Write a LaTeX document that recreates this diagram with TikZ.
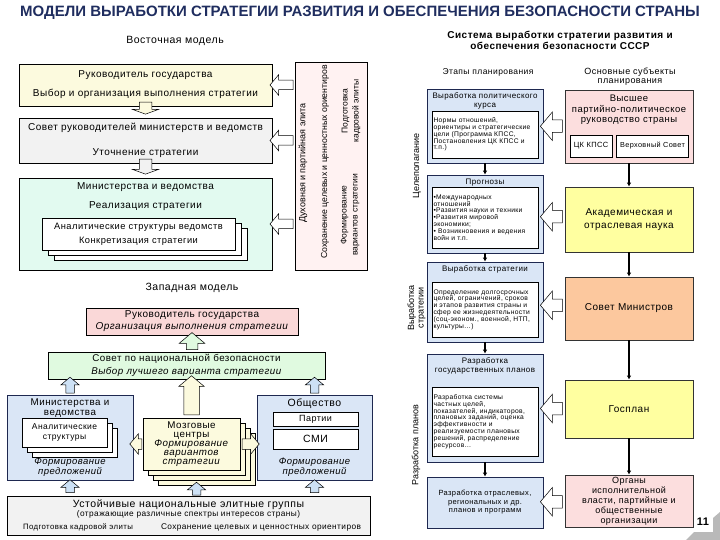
\documentclass[tikz,border=0pt]{standalone}
\usepackage{fontspec}
\setmainfont[LetterSpace=5]{Liberation Sans}
\newfontfamily\plainfont{Liberation Sans}
\usetikzlibrary{arrows.meta,positioning,calc,shapes.arrows,shadows}

\definecolor{TitleBlue} {RGB}{31,45,95}
\definecolor{EastYellow}{RGB}{252,250,222}
\definecolor{EastGray}  {RGB}{242,242,242}
\definecolor{EastMint}  {RGB}{226,250,240}
\definecolor{ElitePink} {RGB}{255,242,242}
\definecolor{StageBlue} {RGB}{218,230,246}
\definecolor{StageLine} {RGB}{30,40,80}
\definecolor{PartyPink} {RGB}{252,222,222}
\definecolor{SciYellow} {RGB}{255,255,160}
\definecolor{MinOrange} {RGB}{252,200,158}
\definecolor{WestPink}  {RGB}{250,216,216}
\definecolor{WestGreen} {RGB}{224,250,224}
\definecolor{ArrowBlue} {RGB}{205,225,245}

\newcommand{\fsz}[2]{\fontsize{#1}{#2}\selectfont}

\begin{document}
\begin{tikzpicture}[x=1pt,y=-1pt,
  box/.style={draw,line width=0.7pt,inner sep=1pt,align=center},
  stage/.style={box,draw=StageLine,fill=StageBlue,minimum width=116pt},
  subject/.style={box,draw=black!80,minimum width=128pt},
  note/.style={draw,line width=0.6pt,fill=white,minimum width=106pt,
               text width=103pt,align=left,inner sep=1.5pt,font=\fsz{6.7}{6.8}},
  hdr/.style={font=\fsz{8}{8.5},align=center,inner sep=1pt},
  side/.style={rotate=90,font=\plainfont\fsz{9}{10},align=center},
  blk/.style 2 args={single arrow,draw,line width=0.5pt,fill=white,
               inner xsep=0pt,inner ysep=#1,single arrow head extend=#2,
               minimum width={2*(#1+#2)},single arrow head indent=0pt,
               single arrow tip angle=100},
  dnarr/.style={-{Latex[length=4pt,width=4.5pt]},line width=1.2pt},
  tank/.style={copy shadow={shadow xshift=15pt,shadow yshift=-15pt},
               copy shadow={shadow xshift=10pt,shadow yshift=-10pt},
               copy shadow={shadow xshift=5pt,shadow yshift=-5pt}}]
  \path[use as bounding box,fill=white] (0,0) rectangle (720,540);

  \node[font=\plainfont\bfseries\fsz{15}{17},text=TitleBlue] (title) at (360,13)
        {МОДЕЛИ ВЫРАБОТКИ СТРАТЕГИИ РАЗВИТИЯ И ОБЕСПЕЧЕНИЯ БЕЗОПАСНОСТИ СТРАНЫ};

  % Eastern model
  \node[font=\fsz{10.5}{12}] (eastlbl) at (175,41) {Восточная модель};
  \node[box,fill=EastYellow,minimum width=253pt,minimum height=42pt,
        font=\fsz{10}{19}] (e1) at (145.5,85)
        {Руководитель государства\\Выбор и организация выполнения стратегии};
  \node[box,fill=EastGray,minimum width=253pt,minimum height=45pt,
        font=\fsz{10}{25}] (e2) at (145.5,140.5)
        {Совет руководителей министерств и ведомств\\Уточнение стратегии};
  \node[box,fill=EastMint,minimum width=253pt,minimum height=92pt] (e3)
        at (145.5,224) {};
  \node[font=\fsz{10}{19},align=center,below=1pt of e3.north] (e3t)
        {Министерства и ведомства\\Реализация стратегии};
  \node[box,fill=white,double copy shadow={shadow xshift=6pt,shadow yshift=-5pt},
        minimum width=193pt,minimum height=32pt,font=\fsz{9.3}{14}] (e3s)
        at (138.5,234) {Аналитические структуры ведомств\\Конкретизация стратегии};
  \node[box,fill=ElitePink,minimum width=72pt,minimum height=208pt] (eV)
        at (331,166) {};
  \node[side] (eV1) at (303,163) {Духовная и партийная элита};
  \node[side,font=\plainfont\fsz{8.7}{10}] (eV2) at (325,162)
        {Сохранение целевых и ценностных ориентиров};
  \node[side,font=\plainfont\fsz{8.5}{11}] (eV3) at (350,215)
        {Формирование\\вариантов стратегии};
  \node[side,font=\plainfont\fsz{8.5}{11}] (eV4) at (351,111)
        {Подготовка\\кадровой элиты};
  \foreach \b in {e1,e2,e3}
    \node[blk={4.5pt}{5.5pt},minimum height=23pt,rotate=180]
      at ($(\b.east)!.5!(eV.west |- \b.east)$) {};
  \node[blk={6pt}{7pt},single arrow tip angle=140,minimum height=12pt,rotate=-90,
        fill=EastYellow,xshift=-5pt] at ($(e1.south)!.5!(e2.north)$) {};
  \node[blk={6pt}{7pt},single arrow tip angle=140,minimum height=15pt,rotate=-90,
        fill=EastGray,xshift=-5pt] at ($(e2.south)!.5!(e3.north)$) {};

  % Western model
  \node[font=\fsz{10.5}{12}] (westlbl) at (192,288) {Западная модель};
  \node[box,fill=WestPink,minimum width=212pt,minimum height=27pt,
        font=\fsz{10}{12}] (w1) at (192,321.5)
        {Руководитель государства\\\textit{Организация выполнения стратегии}};
  \node[box,fill=WestGreen,minimum width=277pt,minimum height=27pt,
        font=\fsz{9.8}{13}] (w2) at (186.5,365.5)
        {Совет по национальной безопасности\\\textit{Выбор лучшего варианта стратегии}};
  \node[stage,minimum width=126pt,minimum height=85pt] (w3) at (70,437.5) {};
  \node[font=\fsz{9.8}{9.5},align=center,below=1pt of w3.north] (w3t)
        {Министерства и\\ведомства};
  \node[box,fill=white,double copy shadow={shadow xshift=5pt,shadow yshift=-5pt},
        minimum width=85pt,minimum height=29pt,font=\fsz{8.5}{9.5}] (w3s)
        at (64.5,432.5) {Аналитические\\структуры};
  \node[font=\itshape\fsz{9.5}{9.5},align=center] (w3p) at (70,467)
        {Формирование\\предложений};
  \node[box,fill=EastYellow,tank,minimum width=97pt,minimum height=52pt,
        font=\fsz{9.8}{9}] (w4) at (191.5,444)
        {Мозговые\\центры\\\textit{Формирование}\\\textit{вариантов}\\\textit{стратегии}};
  \coordinate (w4b) at ($(w4.south)+(5,15)$);
  \node[stage,minimum width=115pt,minimum height=85pt] (w5) at (314.5,437.5) {};
  \node[font=\fsz{10.5}{10},below=1pt of w5.north] (w5t) {Общество};
  \node[box,fill=white,minimum width=85pt,minimum height=14pt,font=\fsz{9}{9}]
        (w5a) at (315.5,419) {Партии};
  \node[box,fill=white,minimum width=85pt,minimum height=20pt,font=\fsz{10.5}{10}]
        (w5b) at (315.5,439) {СМИ};
  \node[font=\itshape\fsz{9.5}{9.5},align=center] (w5p) at (314.5,467)
        {Формирование\\предложений};
  \node[box,fill=EastGray,minimum width=363pt,minimum height=39pt] (w6)
        at (188.5,515.5) {};
  \node[font=\fsz{10.5}{10}] (w6a) at (188.5,504.5) {Устойчивые национальные элитные группы};
  \node[font=\fsz{8.3}{9}] (w6b) at (188.5,514)
        {(отражающие различные спектры интересов страны)};
  \node[font=\fsz{7.8}{9}] (w6c) at (78,527) {Подготовка кадровой элиты};
  \node[font=\fsz{8.3}{9}] (w6d) at (261,527) {Сохранение целевых и ценностных ориентиров};
  \node[blk={5.5pt}{7pt},minimum height=17pt,rotate=90,fill=WestGreen]
    at ($(w1.south)!.5!(w1.south |- w2.north)$) {};
  \foreach \b in {w3,w5}
    \node[blk={4pt}{5pt},minimum height=16pt,rotate=90,fill=ArrowBlue]
      at ($(\b.north)!.5!(\b.north |- w2.south)$) {};
  \node[blk={7.5pt}{5pt},minimum height=39pt,rotate=90,fill=EastYellow]
    at ($(w4.north)!.5!(w4.north |- w2.south)$) {};
  \foreach \b in {w3,w4b,w5}
    \node[blk={4pt}{5pt},minimum height=13pt,rotate=90,fill=ArrowBlue]
      at ($(\b.south)!.5!(\b.south |- w6.north)$) {};
  \node[blk={5pt}{5pt},minimum height=12pt,rotate=180,fill=EastYellow]
    at ($(w4.west)!.5!(w3.east |- w4.west)$) {};
  \node[blk={5pt}{5pt},minimum height=17pt,fill=EastYellow]
    at ($(w4.east)!.5!(w5.west |- w4.east)$) {};

  % USSR system
  \node[font=\bfseries\fsz{10}{11},align=center] (stitle) at (560,40)
        {Система выработки стратегии развития и\\обеспечения безопасности СССР};
  \node[font=\fsz{8.5}{9}] (stages) at (488,72) {Этапы планирования};
  \node[font=\fsz{9}{9},align=center] (subj) at (630,76.5)
        {Основные субъекты\\планирования};

  \node[stage,minimum height=74pt] (A) at (485,126) {};
  \node[hdr,below=3pt of A.north] (Ah) {Выработка политического\\курса};
  \node[note,minimum height=47pt] (Ai) at (485,134.5)
        {Нормы отношений,\\ориентиры и стратегические\\цели (Программа КПСС,\\
         Постановления ЦК КПСС и\\т.п.)};
  \node[stage,minimum height=78pt] (B) at (485,214) {};
  \node[hdr,below=3pt of B.north] (Bh) {Прогнозы};
  \node[note,minimum height=61pt] (Bi) at (485,217.5)
        {•Международных\\отношений\\•Развития науки и техники\\•Развития мировой\\
         экономики;\\• Возникновения и ведения\\войн и т.п.};
  \node[stage,minimum height=80pt] (C) at (485,302) {};
  \node[hdr,below=3pt of C.north] (Ch) {Выработка стратегии};
  \node[note,minimum height=55pt] (Ci) at (485,309.5)
        {Определение долгосрочных\\целей, ограничений, сроков\\и этапов развития страны и\\
         сфер ее жизнедеятельности\\(соц-эконом., военной, НТП,\\культуры…)};
  \node[stage,minimum height=108pt] (D) at (485,408) {};
  \node[hdr,below=3pt of D.north] (Dh) {Разработка\\государственных планов};
  \node[note,minimum height=69pt] (Di) at (485,421.5)
        {Разработка системы\\частных целей,\\показателей, индикаторов,\\
         плановых заданий, оценка\\эффективности и\\реализуемости плановых\\
         решений, распределение\\ресурсов…};
  \node[stage,minimum height=51pt,font=\fsz{7.5}{8.5}] (E) at (485,502.5)
        {Разработка отраслевых,\\региональных и др.\\планов и программ};

  \node[side] (lab1) at (417,166) {Целеполагание};
  \node[side,font=\plainfont\fsz{9}{9.5}] (lab2) at (416.5,308) {Выработка\\стратегии};
  \node[side] (lab3) at (416,445) {Разработка планов};

  \node[subject,fill=PartyPink,minimum height=73pt] (F) at (629,126.5) {};
  \node[font=\fsz{9.5}{10.5},align=center,below=2pt of F.north] (Ft)
        {Высшее\\партийно-политическое\\руководство страны};
  \node[box,fill=white,minimum width=42pt,minimum height=22pt,font=\fsz{7.5}{9}]
        (cc) at (591,146) {ЦК КПСС};
  \node[box,fill=white,minimum width=72pt,minimum height=22pt,font=\fsz{7.3}{9}]
        (vs) at (652.5,146) {Верховный Совет};
  \node[subject,fill=SciYellow,minimum height=65pt,font=\fsz{10}{13}] (G)
        at (629,219.5) {Академическая и\\отраслевая наука};
  \node[subject,fill=MinOrange,minimum height=63pt,font=\fsz{10}{12}] (H)
        at (629,308.5) {Совет Министров};
  \node[subject,fill=SciYellow,minimum height=58pt,font=\fsz{10}{12}] (I)
        at (629,409) {Госплан};
  \node[subject,fill=PartyPink,minimum height=52pt,font=\fsz{9}{10}] (J)
        at (629,501) {Органы\\исполнительной\\власти, партийные и\\общественные\\организации};

  \foreach \a/\b in {A/B,B/C,C/D,D/E,F/G,G/H,H/I,I/J}
    \draw[dnarr] (\a.south)--(\b.north);
  \foreach \s/\t in {F/A,G/B,H/C,I/D,J/E}
    \node[blk={6pt}{8pt},minimum height=22pt,rotate=180]
      at ($(\s.west)!.5!(\t.east)$) {};

  \fill[gray!55] (686,540) -- (720,540) -- (720,512) -- (713,518)
        -- (713,532) -- (694,532) -- cycle;
  \node[font=\bfseries\fsz{11}{12}] (pg) at (703,522) {11};
\end{tikzpicture}
\end{document}
